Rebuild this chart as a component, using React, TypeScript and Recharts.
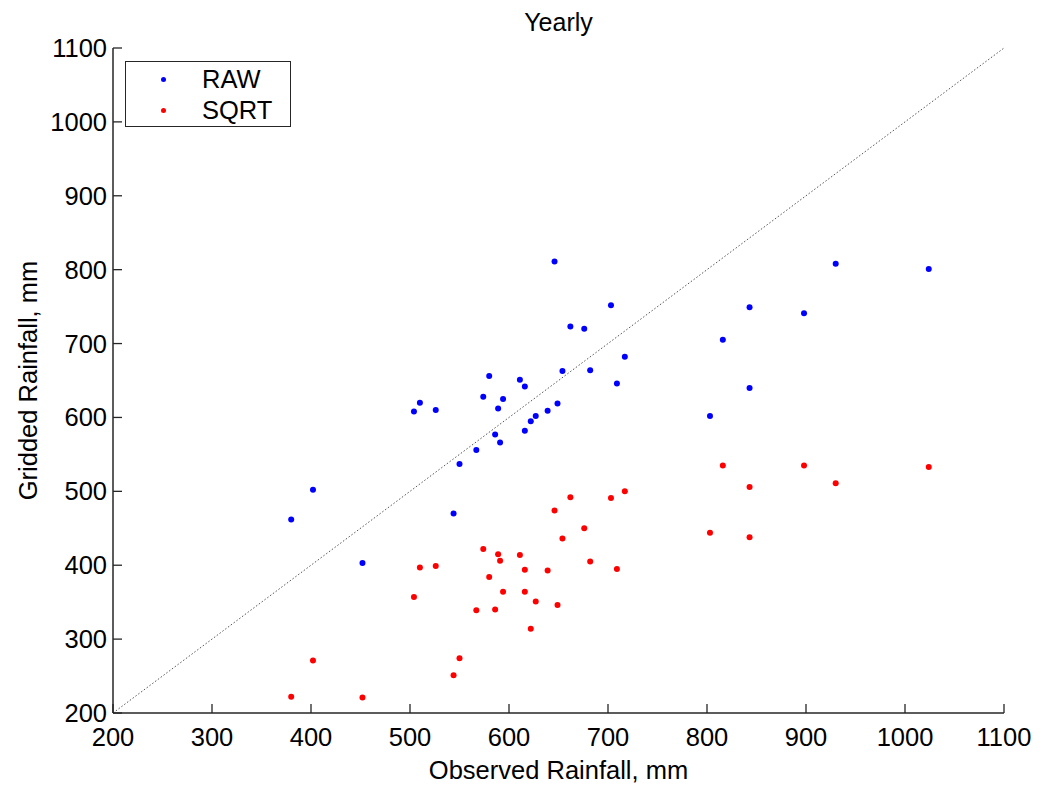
import React from 'react';
import { ScatterChart, Scatter, XAxis, YAxis, ReferenceLine } from 'recharts';

// observed rainfall per station (mm), shared by both series
const OBSERVED = [380, 402, 452, 504, 510, 526, 544, 550, 567, 574, 580, 586, 589, 591, 594, 611, 616, 616, 622, 627, 639, 646, 649, 654, 662, 676, 682, 703, 709, 717, 803, 816, 843, 843, 898, 930, 1024];
const RAW_GRIDDED = [462, 502, 403, 608, 620, 610, 470, 537, 556, 628, 656, 577, 612, 566, 625, 651, 642, 582, 595, 602, 609, 811, 619, 663, 723, 720, 664, 752, 646, 682, 602, 705, 749, 640, 741, 808, 801];
const SQRT_GRIDDED = [222, 271, 221, 357, 397, 399, 251, 274, 339, 422, 384, 340, 415, 406, 364, 414, 394, 364, 314, 351, 393, 474, 346, 436, 492, 450, 405, 491, 395, 500, 444, 535, 506, 438, 535, 511, 533];
const TICKS = [200, 300, 400, 500, 600, 700, 800, 900, 1000, 1100];
const DOMAIN: [number, number] = [200, 1100];

const SERIES = [
  { name: 'RAW', color: '#0000ff', data: OBSERVED.map((x, i) => ({ x, y: RAW_GRIDDED[i] })) },
  { name: 'SQRT', color: '#ff0000', data: OBSERVED.map((x, i) => ({ x, y: SQRT_GRIDDED[i] })) },
];

const FONT = '"Liberation Sans", Arial, sans-serif';
const AXIS = '#262626';
const TICK_LEN = 9;
const TICK_FONT = 25.5;

const BottomTick = (props: any) => {
  const { x, y, payload } = props;
  return (
    <g>
      <line x1={x} x2={x} y1={y} y2={y - TICK_LEN} stroke={AXIS} strokeWidth={1.3} />
      <text x={x} y={y + 33} textAnchor="middle" fontSize={TICK_FONT} fontFamily={FONT} fill="#000">{payload.value}</text>
    </g>
  );
};

const LeftTick = (props: any) => {
  const { x, y, payload } = props;
  return (
    <g>
      <line x1={x} x2={x + TICK_LEN} y1={y} y2={y} stroke={AXIS} strokeWidth={1.3} />
      <text x={x - 6} y={y + 9} textAnchor="end" fontSize={TICK_FONT} fontFamily={FONT} fill="#000">{payload.value}</text>
    </g>
  );
};

const TopTick = (props: any) => {
  const { x, y } = props;
  return <line x1={x} x2={x} y1={y} y2={y + TICK_LEN} stroke={AXIS} strokeWidth={1.3} />;
};

const RightTick = (props: any) => {
  const { x, y } = props;
  return <line x1={x} x2={x - TICK_LEN} y1={y} y2={y} stroke={AXIS} strokeWidth={1.3} />;
};

const dot = (color: string) => (p: any) => <circle cx={p.cx} cy={p.cy} r={3} fill={color} />;

export default function App() {
  return (
    <div style={{ position: 'absolute', left: 0, top: 0, width: 1042, height: 787, background: '#fff', fontFamily: FONT }}>
      <div style={{ position: 'absolute', left: 113, width: 891, top: 6, textAlign: 'center', fontSize: 25, lineHeight: '32px', color: '#000' }}>Yearly</div>
      <ScatterChart width={1042} height={787} margin={{ top: 48, right: 38, bottom: 44, left: 53 }} style={{ fontFamily: FONT }}>
        <XAxis
          xAxisId="bottom"
          type="number"
          dataKey="x"
          domain={DOMAIN}
          ticks={TICKS}
          allowDataOverflow
          height={30}
          tickSize={0}
          tickMargin={0}
          tick={<BottomTick />}
          axisLine={{ stroke: AXIS, strokeWidth: 1.5 }}
          label={{ value: 'Observed Rainfall, mm', position: 'bottom', offset: 18, fontSize: 25.5, fill: '#000' }}
        />
        <XAxis
          xAxisId="top"
          orientation="top"
          type="number"
          dataKey="x"
          domain={DOMAIN}
          ticks={TICKS}
          allowDataOverflow
          height={0}
          tickSize={0}
          tickMargin={0}
          tick={<TopTick />}
          axisLine={{ stroke: AXIS, strokeWidth: 1.5 }}
        />
        <YAxis
          yAxisId="left"
          type="number"
          dataKey="y"
          domain={DOMAIN}
          ticks={TICKS}
          allowDataOverflow
          width={60}
          tickSize={0}
          tickMargin={0}
          tick={<LeftTick />}
          axisLine={{ stroke: AXIS, strokeWidth: 1.5 }}
          label={{ value: 'Gridded Rainfall, mm', angle: -90, position: 'insideLeft', offset: -25, fontSize: 25.5, fill: '#000', style: { textAnchor: 'middle' } }}
        />
        <YAxis
          yAxisId="right"
          orientation="right"
          type="number"
          dataKey="y"
          domain={DOMAIN}
          ticks={TICKS}
          allowDataOverflow
          width={0}
          tickSize={0}
          tickMargin={0}
          tick={<RightTick />}
          axisLine={{ stroke: AXIS, strokeWidth: 1.5 }}
        />
        <ReferenceLine
          xAxisId="bottom"
          yAxisId="left"
          segment={[{ x: 200, y: 200 }, { x: 1100, y: 1100 }]}
          stroke="#555"
          strokeWidth={1}
          strokeDasharray="1.5 2"
        />
        {SERIES.map((s) => (
          <Scatter key={s.name} name={s.name} data={s.data} xAxisId="bottom" yAxisId="left" fill={s.color} shape={dot(s.color)} isAnimationActive={false} />
        ))}
      </ScatterChart>
      {/* legend box, MATLAB style */}
      <div style={{ position: 'absolute', left: 125, top: 61, width: 166, height: 66, boxSizing: 'border-box', border: `1.5px solid ${AXIS}`, background: '#fff', fontSize: 25.5 }}>
        {SERIES.map((s, i) => (
          <div key={s.name}>
            <span style={{ position: 'absolute', left: 35, top: 15 + i * 31, width: 5, height: 5, borderRadius: '50%', background: s.color }} />
            <span style={{ position: 'absolute', left: 76, top: 2 + i * 31, lineHeight: '30px', whiteSpace: 'nowrap', color: '#000' }}>{s.name}</span>
          </div>
        ))}
      </div>
    </div>
  );
}
